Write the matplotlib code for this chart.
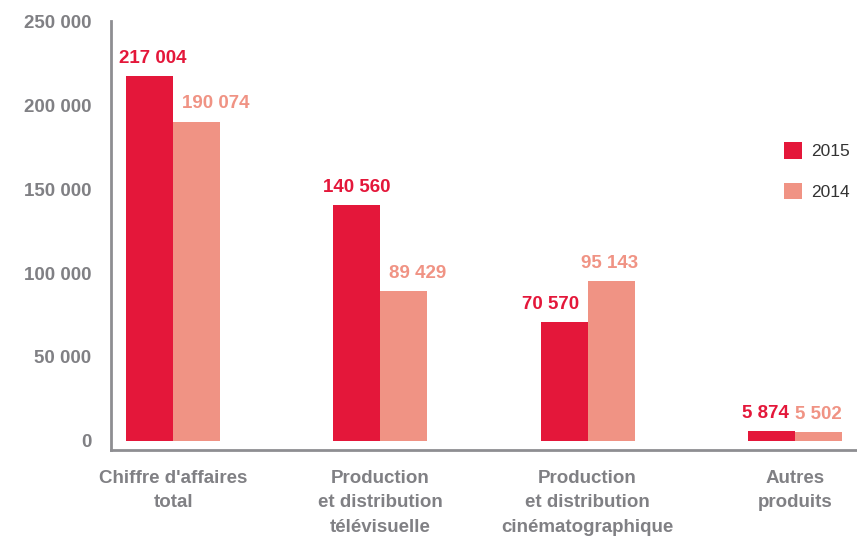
import numpy as np
import matplotlib
matplotlib.use("Agg")
from matplotlib import pyplot as plt

categories = ["Chiffre d'affaires\ntotal",
              "Production\net distribution\ntélévisuelle",
              "Production\net distribution\ncinématographique",
              "Autres\nproduits"]
ca_2015 = [217004, 140560, 70570, 5874]
ca_2014 = [190074, 89429, 95143, 5502]
years = ["2015", "2014"]
yticks = [0, 50000, 100000, 150000, 200000, 250000]

RED = "#e4173a"
SALMON = "#f09384"
GREY = "#808084"
FONT = "Liberation Sans"

# horizontal nudge of the value labels, in points
nudge_2015 = [2, 0, -10, -4]
nudge_2014 = [14, 10, -1, 0]


def fmt(v):
    return f"{v:,}".replace(",", " ")


fig = plt.figure(figsize=(8.57, 5.39), dpi=100)
ax = fig.add_axes([0.1295, 0.165, 0.8705, 0.796])

x = np.arange(len(categories))
w = 0.227
b1 = ax.bar(x - w / 2, ca_2015, w, color=RED, label=years[0])
b2 = ax.bar(x + w / 2, ca_2014, w, color=SALMON, label=years[1])

for bars, vals, col, nud in [(b1, ca_2015, RED, nudge_2015),
                             (b2, ca_2014, SALMON, nudge_2014)]:
    for r, v, dx in zip(bars, vals, nud):
        ax.annotate(fmt(v), (r.get_x() + r.get_width() / 2, v),
                    xytext=(dx, 9.5), textcoords="offset points",
                    ha="center", va="baseline", color=col,
                    fontsize=13.5, fontweight="bold", family=FONT)

ax.set_xlim(-0.30, 3.30)
ax.set_ylim(-5400, 250000)
ax.set_yticks(yticks)
ax.set_yticklabels([fmt(t) for t in yticks], family=FONT, fontweight="bold",
                   fontsize=13.5, color=GREY)
ax.set_xticks(x)
ax.set_xticklabels(categories, family=FONT, fontweight="bold",
                   fontsize=13.5, color=GREY, linespacing=1.6)
ax.tick_params(length=0)
ax.tick_params(axis="y", pad=14)
ax.tick_params(axis="x", pad=14)

for s in ["top", "right"]:
    ax.spines[s].set_visible(False)
for s in ["left", "bottom"]:
    ax.spines[s].set_color("#8e8e92")
    ax.spines[s].set_linewidth(2)

ax.legend(loc="upper right", bbox_to_anchor=(0.995, 0.725), frameon=False,
          borderaxespad=0, borderpad=0.2,
          handlelength=1.05, handleheight=1.05, handletextpad=0.5,
          labelspacing=1.35, prop={"family": FONT, "size": 12.5},
          labelcolor="#333333")

fig.savefig("out.png", dpi=100)
